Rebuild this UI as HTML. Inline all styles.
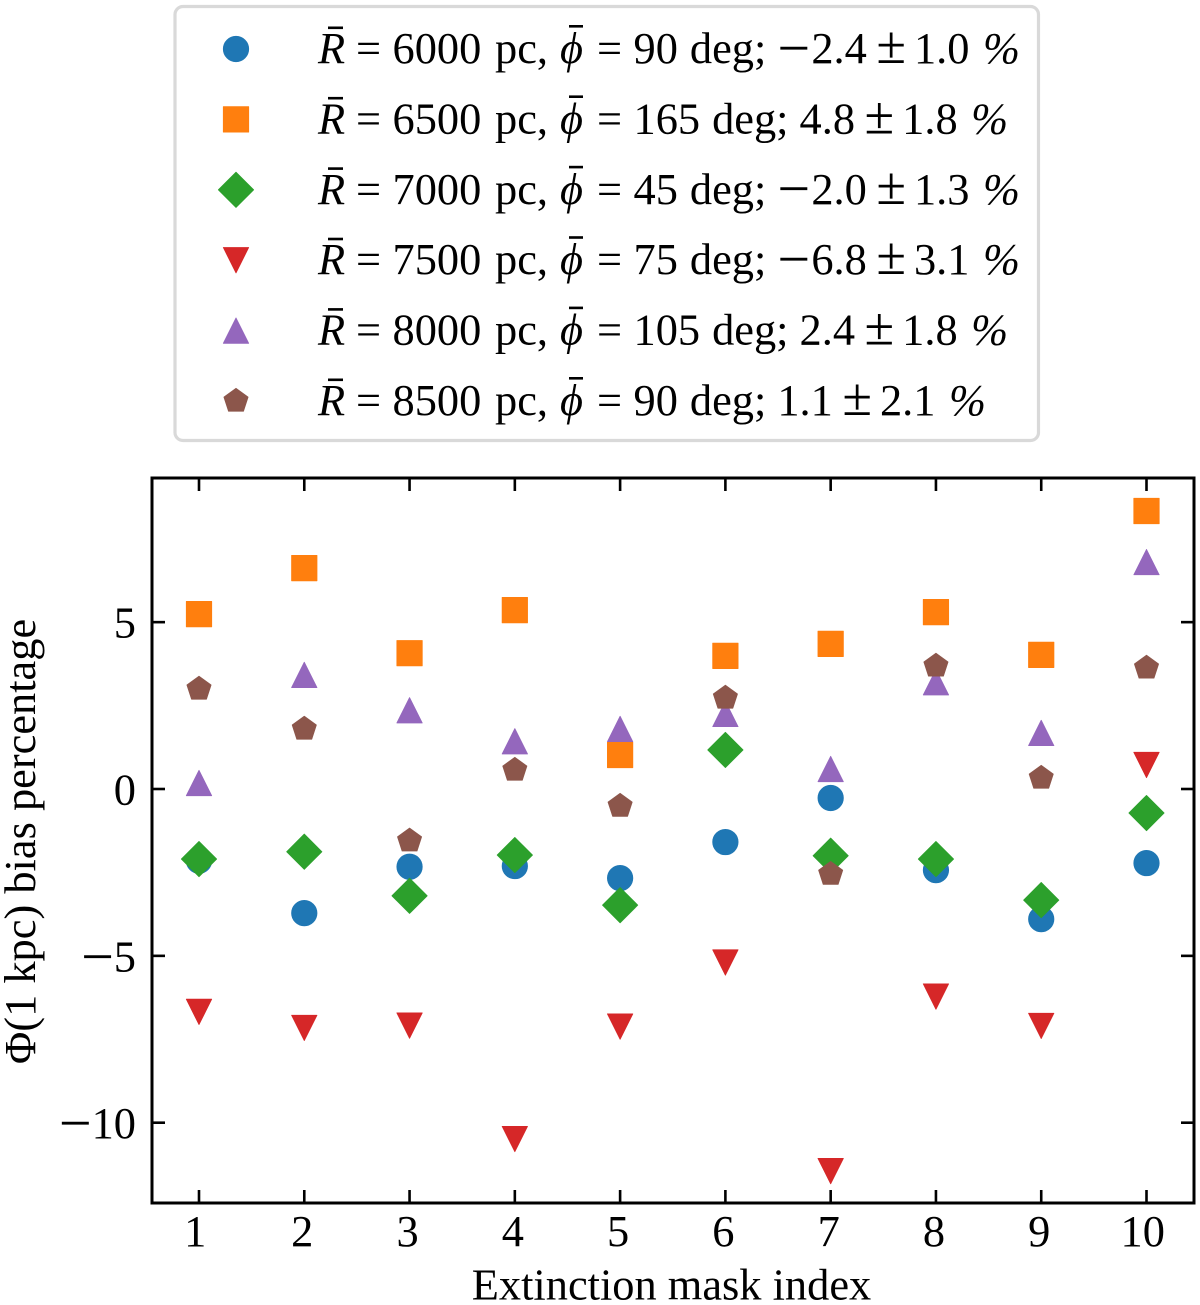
<!DOCTYPE html>
<html lang="en">
<head>
<meta charset="utf-8">
<title>Extinction mask bias chart</title>
<style>
html,body{margin:0;padding:0;background:#fff;}
svg{display:block;font-family:"Liberation Serif","DejaVu Serif",serif;fill:#000;}
</style>
</head>
<body>
<svg id="chart" xmlns="http://www.w3.org/2000/svg" width="1200" height="1305" viewBox="0 0 1200 1305"></svg>
<script>
const categories = [1, 2, 3, 4, 5, 6, 7, 8, 9, 10];
const yTicks = [5, 0, -5, -10];
const seriesRadius = [6000, 6500, 7000, 7500, 8000, 8500];
const seriesPhi = [90, 165, 45, 75, 105, 90];
const seriesBias = [-2.4, 4.8, -2.0, -6.8, 2.4, 1.1];
const seriesError = [1.0, 1.8, 1.3, 3.1, 1.8, 2.1];
const seriesColors = ["#1f77b4", "#ff7f0e", "#2ca02c", "#d62728", "#9467bd", "#8c564b"];
const seriesMarkers = ["circle", "square", "diamond", "triangle-down", "triangle-up", "pentagon"];
const values6000 = [-2.15, -3.72, -2.33, -2.31, -2.67, -1.59, -0.27, -2.43, -3.9, -2.22];
const values6500 = [5.24, 6.62, 4.07, 5.36, 1.02, 3.99, 4.35, 5.3, 4.02, 8.33];
const values7000 = [-2.1, -1.88, -3.2, -1.98, -3.48, 1.17, -2.0, -2.1, -3.33, -0.72];
const values7500 = [-6.68, -7.16, -7.09, -10.49, -7.12, -5.2, -11.45, -6.22, -7.1, 0.72];
const values8000 = [0.18, 3.42, 2.36, 1.43, 1.8, 2.25, 0.6, 3.2, 1.68, 6.8];
const values8500 = [3.0, 1.8, -1.55, 0.57, -0.51, 2.73, -2.55, 3.69, 0.33, 3.63];
const seriesValues = [values6000, values6500, values7000, values7500, values8000, values8500];

const NS = "http://www.w3.org/2000/svg";
const svg = document.getElementById("chart");
const FONT = 44.4;
const BIG = 54;
const MINUS = 58;
const MINUS_DROP = 4.4;
const plot = { left: 152, right: 1194, top: 478, bottom: 1203 };
const xScale = v => 199 + (v - 1) * (1146.5 - 199) / 9;
const yScale = v => 789 - v * 33.37;

function make(tag, attrs, parent) {
  const el = document.createElementNS(NS, tag);
  for (const k in attrs) el.setAttribute(k, attrs[k]);
  (parent || svg).appendChild(el);
  return el;
}

function drawMarker(kind, cx, cy, color, parent) {
  const r = 12.7;
  const style = { fill: color, stroke: color, "stroke-width": 0.8, "stroke-linejoin": "round" };
  if (kind === "circle") return make("circle", { cx, cy, r, ...style }, parent);
  let pts;
  if (kind === "square") pts = [[-r, -r], [r, -r], [r, r], [-r, r]];
  if (kind === "diamond") { const d = r * 1.39; pts = [[0, -d], [d, 0], [0, d], [-d, 0]]; }
  if (kind === "triangle-down") pts = [[-r, -r], [r, -r], [0, r]];
  if (kind === "triangle-up") pts = [[0, -r], [r, r], [-r, r]];
  if (kind === "pentagon") {
    pts = [];
    for (let i = 0; i < 5; i++) {
      const a = -Math.PI / 2 + i * 2 * Math.PI / 5;
      pts.push([r * Math.cos(a), r * Math.sin(a)]);
    }
  }
  return make("polygon", { points: pts.map(p => (cx + p[0]) + "," + (cy + p[1])).join(" "), ...style }, parent);
}

/* legend */
const legendGroup = make("g", {});


const legendBox = make("rect", { x: 175, y: 6.5, width: 863.5, height: 434, rx: 8, ry: 8, fill: "#fff", stroke: "#d9d9d9", "stroke-width": 3.2 }, legendGroup);


const rowY = i => 49 + i * 70.4;

seriesRadius.forEach((radius, i) => {
  const y = rowY(i);
  const entry = make("g", {}, legendGroup);
  
  
  const marker = drawMarker(seriesMarkers[i], 236, y, seriesColors[i], entry);
  
  

  const label = make("text", { y: y + 14, "font-size": FONT }, entry);
  
  
  const bias = seriesBias[i];
  const parts = [
    ["R", { x: 318, "font-style": "italic" }],
    ["=", { x: 356 }],
    [String(radius), { x: 392.5 }],
    ["pc,", { x: 495 }],
    ["\u03D5", { x: 560, "font-style": "italic" }],
    ["=", { x: 597 }],
    [String(seriesPhi[i]), { x: 633.5 }],
    ["deg;", { dx: 12 }]
  ];
  if (bias < 0) {
    parts.push(["\u2212", { dx: 11, dy: MINUS_DROP, "font-size": MINUS }]);
    parts.push([Math.abs(bias).toFixed(1), { dx: 1.3, dy: -MINUS_DROP }]);
  } else {
    parts.push([bias.toFixed(1), { dx: 11 }]);
  }
  parts.push(["\u00B1", { dx: 9.5, "font-size": BIG }]);
  parts.push([seriesError[i].toFixed(1), { dx: 8 }]);
  parts.push(["%", { dx: 13.5, "font-style": "italic" }]);
  parts.forEach(p => {
    const t = make("tspan", p[1], label);
    t.textContent = p[0];
  });
  const barR = make("rect", { x: 328, y: y - 22.5, width: 15, height: 2.6, fill: "#000" }, entry);
  
  
  const barPhi = make("rect", { x: 569, y: y - 24, width: 14, height: 2.6, fill: "#000" }, entry);
  
  
});

/* series */
seriesValues.forEach((vals, s) => {
  const group = make("g", {});
  
  
  vals.forEach((v, i) => {
    const m = drawMarker(seriesMarkers[s], xScale(categories[i]), yScale(v), seriesColors[s], group);
    
    
  });
});

/* axes */
const frame = make("rect", { x: plot.left, y: plot.top, width: plot.right - plot.left, height: plot.bottom - plot.top, fill: "none", stroke: "#000", "stroke-width": 3 });



const xAxis = make("g", {});


categories.forEach(c => {
  const x = xScale(c);
  const bottomTick = make("line", { x1: x, x2: x, y1: plot.bottom, y2: plot.bottom - 13, stroke: "#000", "stroke-width": 2.6 }, xAxis);
  
  
  const topTick = make("line", { x1: x, x2: x, y1: plot.top, y2: plot.top + 13, stroke: "#000", "stroke-width": 2.6 }, xAxis);
  
  
  const shift = c === 1 || c === 10 ? -3.8 : -2;
  const label = make("text", { x: x + shift, y: 1246, "font-size": FONT, "text-anchor": "middle" }, xAxis);
  
  
  label.textContent = c;
});

const yAxis = make("g", {});


yTicks.forEach(v => {
  const y = yScale(v);
  const leftTick = make("line", { x1: plot.left, x2: plot.left + 13, y1: y, y2: y, stroke: "#000", "stroke-width": 2.6 }, yAxis);
  
  
  const rightTick = make("line", { x1: plot.right, x2: plot.right - 13, y1: y, y2: y, stroke: "#000", "stroke-width": 2.6 }, yAxis);
  
  
  const label = make("text", { x: 136, y: y + 15.5, "font-size": FONT, "text-anchor": "end" }, yAxis);
  
  
  if (v < 0) {
    const minus = make("tspan", { dy: MINUS_DROP, "font-size": MINUS }, label);
    minus.textContent = "\u2212";
    const digits = make("tspan", { dy: -MINUS_DROP }, label);
    digits.textContent = Math.abs(v);
  } else {
    label.textContent = v;
  }
});

const xTitle = make("text", { x: 671.5, y: 1299.5, "font-size": FONT, "text-anchor": "middle" });


xTitle.textContent = "Extinction mask index";

const yTitle = make("text", { x: 0, y: 0, "font-size": FONT, "text-anchor": "middle", transform: "translate(35 841.5) rotate(-90)" });


yTitle.textContent = "\u03A6(1 kpc) bias percentage";
</script>
</body>
</html>
